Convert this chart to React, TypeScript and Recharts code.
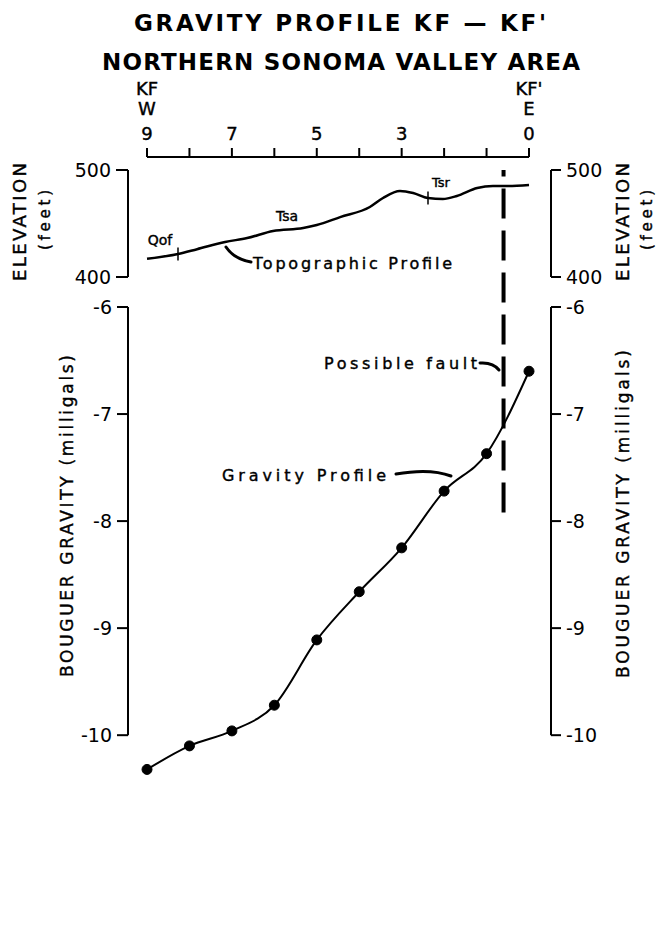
import { Line, LineChart, ReferenceLine, XAxis, YAxis } from 'recharts'

// distance along profile (miles from KF')
const topoMiles = [9, 8.27, 7.82, 7.16, 6.64, 6.03, 5.32, 5.0, 4.45, 3.75, 3.44, 3.04, 2.73, 2.38, 2.03, 1.7, 1.22, 0.85, 0.52, 0]
const topoElevation = [417, 421.5, 426, 432.7, 436.4, 443, 445.8, 448.6, 456, 465.4, 473.8, 480.4, 478.5, 473.8, 472.9, 475.7, 483.2, 485, 485, 486]

const gravityMiles = [9, 8, 7, 6, 5, 4, 3, 2, 1, 0]
const bouguerGravity = [-10.32, -10.1, -9.96, -9.72, -9.11, -8.66, -8.25, -7.72, -7.37, -6.6]

const contactMiles = [8.27, 2.38]
const contactElevation = [421.5, 473.8]
const faultMile = 0.6
const faultRange = [-7.92, -4.72]

const distanceTicks = [0, 1, 2, 3, 4, 5, 6, 7, 8, 9]
const distanceLabels: Record<number, string[]> = { 9: ['KF', 'W', '9'], 7: ['7'], 5: ['5'], 3: ['3'], 0: ["KF'", 'E', '0'] }
const elevationTicks = [400, 500]
const gravityTicks = [-10, -9, -8, -7, -6]

const topoData = topoMiles.map((m, i) => ({ mile: m, elev: topoElevation[i] }))
const gravityData = gravityMiles.map((m, i) => ({ mile: m, grav: bouguerGravity[i] }))

const FONT = '"DejaVu Sans", sans-serif'
const xDomain: [number, number] = [-0.518, 9.448]
const gravDomain: [number, number] = [-10.4, -6]
const tickStyle = { fill: '#000', fontSize: 19, fontFamily: FONT }
const axisLine = { stroke: '#000', strokeWidth: 2 }
const tickLine = { stroke: '#000', strokeWidth: 2 }

function DistanceTick({ x, y, payload }: any) {
  const lines = distanceLabels[payload.value]
  if (!lines) return null
  const offs = lines.length === 3 ? [-45, -25, 0] : [0]
  return (
    <g>
      {lines.map((t, i) => (
        <text key={i} x={x} y={y + offs[i]} textAnchor="middle" fontSize={18} fontFamily={FONT} fill="#000" stroke="#000" strokeWidth={0.4}>
          {t}
        </text>
      ))}
    </g>
  )
}

const abs = { position: 'absolute' as const, left: 0, top: 0 }

export default function App() {
  return (
    <div style={{ position: 'absolute', left: 0, top: 0, width: 663, height: 949, background: '#fff' }}>
      {/* distance axis */}
      <div style={abs}>
        <LineChart width={663} height={175} data={gravityData} margin={{ top: 117, left: 147, right: 134, bottom: 10 }}>
          <XAxis
            dataKey="mile"
            type="number"
            orientation="top"
            domain={[0, 9]}
            reversed
            ticks={distanceTicks}
            interval={0}
            height={40}
            tickSize={9}
            tickMargin={8}
            axisLine={axisLine}
            tickLine={tickLine}
            tick={<DistanceTick />}
          />
          <YAxis hide domain={[0, 1]} />
        </LineChart>
      </div>

      {/* elevation panel */}
      <div style={abs}>
        <LineChart width={663} height={300} data={topoData} margin={{ top: 170, left: 68, right: 52, bottom: 23 }}>
          <XAxis dataKey="mile" type="number" hide domain={xDomain} reversed allowDataOverflow />
          <YAxis yAxisId="l" orientation="left" width={60} domain={[400, 500]} ticks={elevationTicks} tickSize={12} tickMargin={5} axisLine={axisLine} tickLine={tickLine} tick={tickStyle} />
          <YAxis yAxisId="r" orientation="right" width={60} domain={[400, 500]} allowDataOverflow ticks={elevationTicks} tickSize={10} tickMargin={5} axisLine={axisLine} tickLine={tickLine} tick={tickStyle} />
          {contactMiles.map((m, i) => (
            <ReferenceLine
              key={m}
              yAxisId="l"
              segment={[{ x: m, y: contactElevation[i] - 6 }, { x: m, y: contactElevation[i] + 6 }]}
              stroke="#000"
              strokeWidth={1.5}
            />
          ))}
          <Line yAxisId="l" dataKey="elev" type="monotone" stroke="#000" strokeWidth={2.5} dot={false} isAnimationActive={false} />
        </LineChart>
      </div>

      {/* gravity panel */}
      <div style={abs}>
        <LineChart width={663} height={949} data={gravityData} margin={{ top: 307, left: 68, right: 52, bottom: 171 }}>
          <XAxis dataKey="mile" type="number" hide domain={xDomain} reversed allowDataOverflow />
          <YAxis yAxisId="l" orientation="left" width={60} domain={gravDomain} ticks={gravityTicks} tickSize={11} tickMargin={5} axisLine={false} tickLine={tickLine} tick={tickStyle} />
          <YAxis yAxisId="r" orientation="right" width={60} domain={gravDomain} allowDataOverflow ticks={gravityTicks} tickSize={10} tickMargin={5} axisLine={false} tickLine={tickLine} tick={tickStyle} />
          {/* axis spines end at -10 */}
          {xDomain.map((x) => (
            <ReferenceLine key={x} yAxisId="l" segment={[{ x, y: -10 }, { x, y: -6 }]} stroke="#000" strokeWidth={2} ifOverflow="visible" />
          ))}
          <ReferenceLine
            yAxisId="l"
            segment={[{ x: faultMile, y: faultRange[0] }, { x: faultMile, y: faultRange[1] }]}
            ifOverflow="visible"
            stroke="#000"
            strokeWidth={4}
            strokeDasharray="30 12"
          />
          <Line
            yAxisId="l"
            dataKey="grav"
            type="monotone"
            stroke="#000"
            strokeWidth={2}
            dot={{ r: 5, fill: '#000', stroke: '#000', strokeWidth: 1 }}
            isAnimationActive={false}
          />
        </LineChart>
      </div>

      {/* titles, axis names, annotations */}
      <svg width={663} height={949} style={{ ...abs, pointerEvents: 'none' }} fontFamily={FONT} fill="#000" stroke="#000" strokeWidth={0.4}>
        <text x={340} y={31} fontSize={23} fontWeight="bold" strokeWidth={0} textAnchor="middle" textLength={412} lengthAdjust="spacing">GRAVITY PROFILE KF — KF'</text>
        <text x={341} y={70} fontSize={23} fontWeight="bold" strokeWidth={0} textAnchor="middle" textLength={478} lengthAdjust="spacing">NORTHERN SONOMA VALLEY AREA</text>

        <text transform="translate(26,222) rotate(-90)" fontSize={18} textAnchor="middle" textLength={118} lengthAdjust="spacing">ELEVATION</text>
        <text transform="translate(50,220) rotate(-90)" fontSize={15} textAnchor="middle" textLength={60} lengthAdjust="spacing">(feet)</text>
        <text transform="translate(629,222) rotate(-90)" fontSize={18} textAnchor="middle" textLength={118} lengthAdjust="spacing">ELEVATION</text>
        <text transform="translate(652,220) rotate(-90)" fontSize={15} textAnchor="middle" textLength={60} lengthAdjust="spacing">(feet)</text>

        <text transform="translate(73,516) rotate(-90)" fontSize={17} textAnchor="middle" textLength={322} lengthAdjust="spacing">BOUGUER GRAVITY (milligals)</text>
        <text transform="translate(629,514) rotate(-90)" fontSize={17} textAnchor="middle" textLength={328} lengthAdjust="spacing">BOUGUER GRAVITY (milligals)</text>

        <text x={160} y={245} fontSize={14} textAnchor="middle">Qof</text>
        <text x={287} y={221} fontSize={14} textAnchor="middle">Tsa</text>
        <text x={441} y={187} fontSize={13} textAnchor="middle">Tsr</text>
        <text x={253} y={269} fontSize={16} textLength={199} lengthAdjust="spacing">Topographic Profile</text>
        <text x={324} y={369} fontSize={16} textLength={153} lengthAdjust="spacing">Possible fault</text>
        <text x={222} y={481} fontSize={16} textLength={164} lengthAdjust="spacing">Gravity Profile</text>

        <g fill="none" stroke="#000" strokeWidth={3} strokeLinecap="round">
          <path d="M226 247 Q234 259 251 262" />
          <path d="M480 363 Q493 362 499 370" />
          <path d="M396 474 Q430 468 451 476" />
        </g>
      </svg>
    </div>
  )
}
